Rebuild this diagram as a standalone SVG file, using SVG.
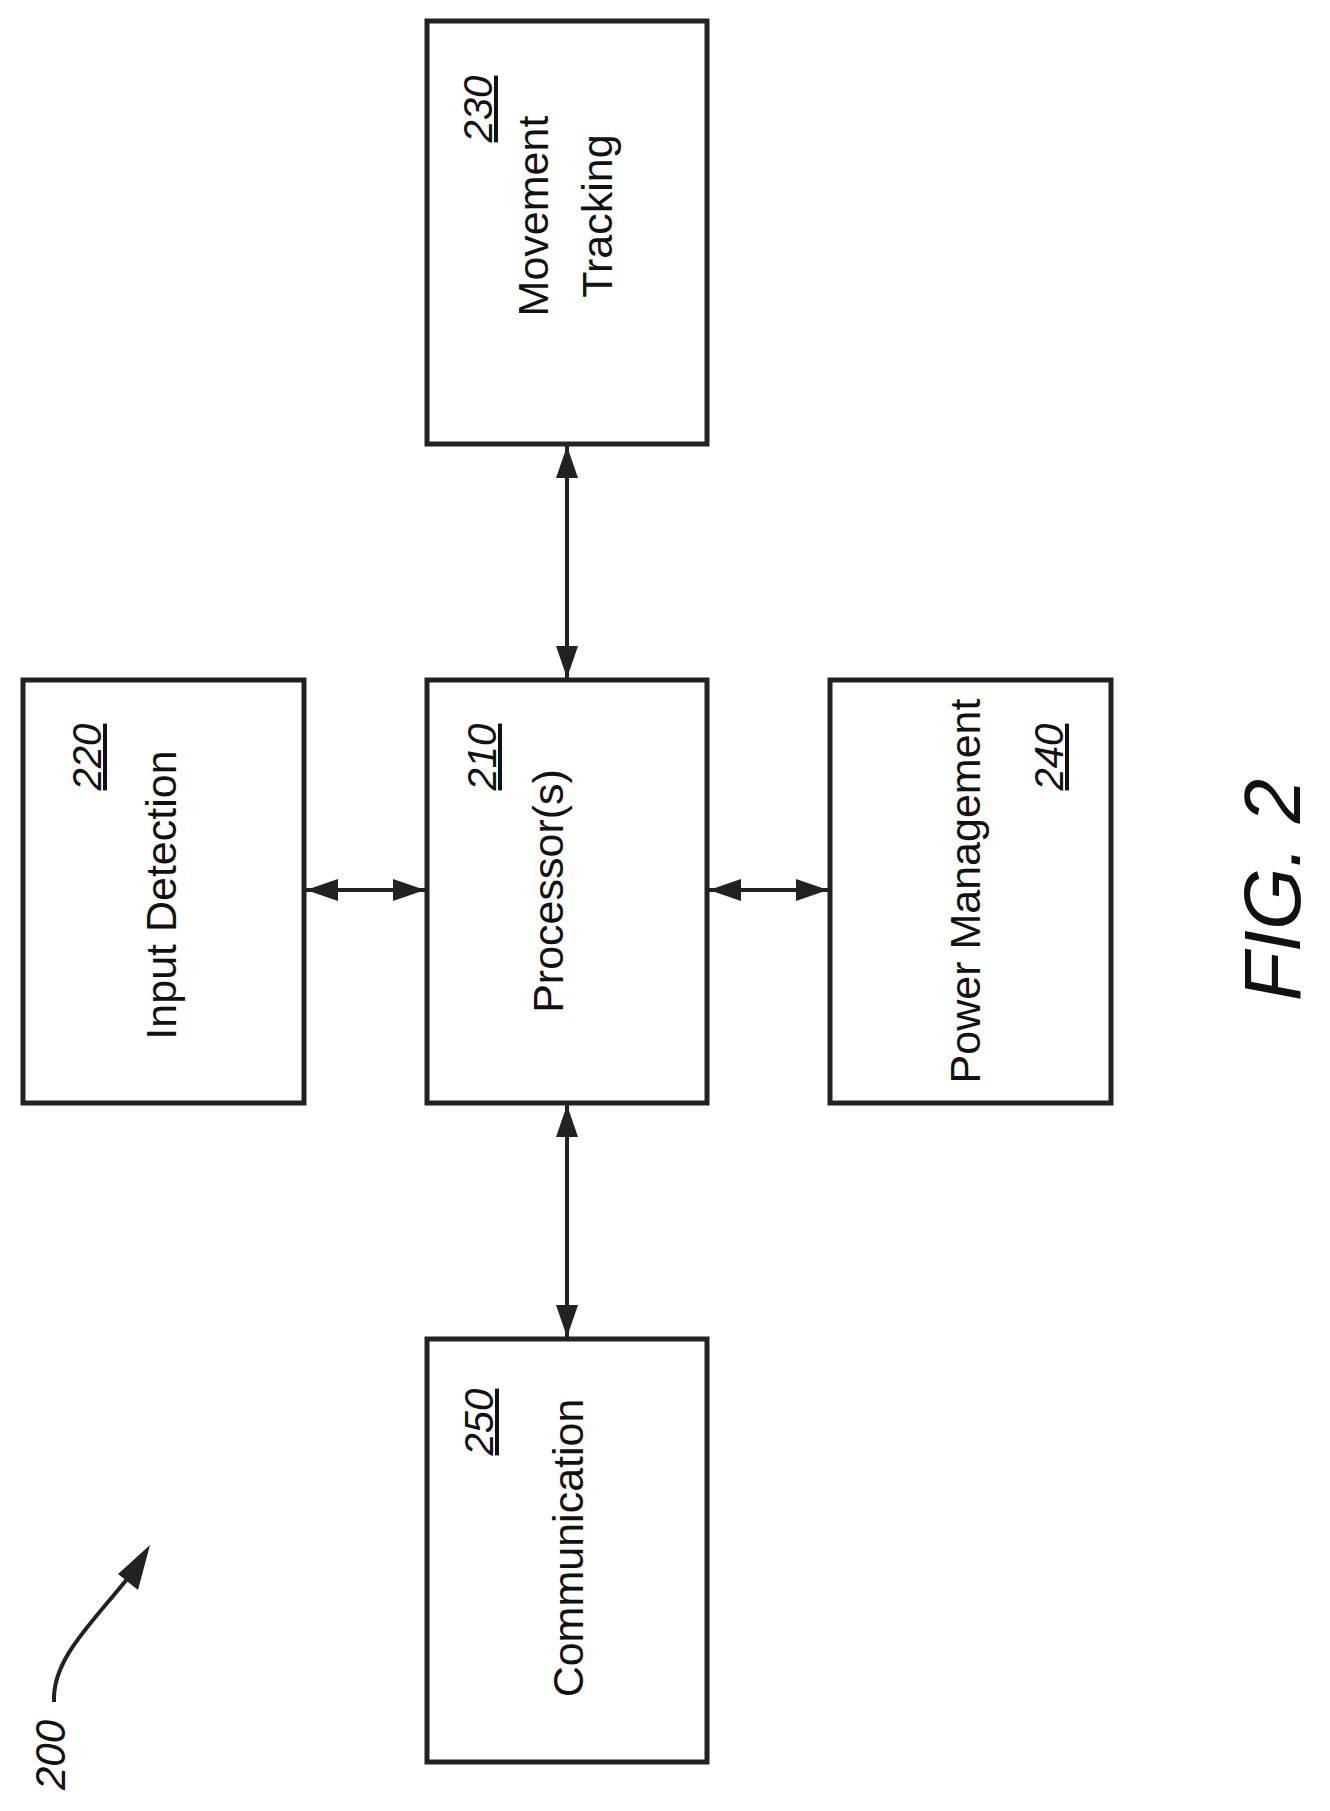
<svg xmlns="http://www.w3.org/2000/svg" width="1330" height="1811" viewBox="0 0 1330 1811">
<style>
.box{fill:#fff;stroke:#222;stroke-width:5}
.t{font-family:"Liberation Sans",Arial,sans-serif;font-size:43px;fill:#111;text-anchor:middle}
.n{font-style:italic;text-decoration:underline;font-size:40px}
.c{stroke:#222;stroke-width:4;fill:none}
</style>
<defs>
<marker id="a" markerUnits="userSpaceOnUse" markerWidth="34" markerHeight="24" refX="32" refY="11" orient="auto-start-reverse" viewBox="0 0 34 22">
<path d="M0,0 L32,11 L0,22 Z" fill="#222"/>
</marker>
</defs>
<g id="connectors">
<line class="c" x1="567" y1="446" x2="567" y2="678" marker-start="url(#a)" marker-end="url(#a)"/>
<line class="c" x1="567" y1="1105" x2="567" y2="1337" marker-start="url(#a)" marker-end="url(#a)"/>
<line class="c" x1="306" y1="890" x2="425" y2="890" marker-start="url(#a)" marker-end="url(#a)"/>
<line class="c" x1="709" y1="890" x2="828" y2="890" marker-start="url(#a)" marker-end="url(#a)"/>
<path class="c" d="M54,1702 C52,1660 90,1625 128,1578" stroke-width="2"/>
<path d="M150,1545 L138,1590 L118,1574 Z" fill="#222"/>
</g>
<g id="n230">
<rect class="box" x="427" y="21" width="280" height="423"/>
<text class="t n" transform="translate(492,109) rotate(-90)">230</text>
<text class="t" transform="translate(548,216) rotate(-90)">Movement</text>
<text class="t" transform="translate(612,216) rotate(-90)">Tracking</text>
</g>
<g id="n220">
<rect class="box" x="23" y="680" width="281" height="423"/>
<text class="t n" transform="translate(101,757) rotate(-90)">220</text>
<text class="t" transform="translate(176,895) rotate(-90)">Input Detection</text>
</g>
<g id="n210">
<rect class="box" x="427" y="680" width="280" height="423"/>
<text class="t n" transform="translate(496,757) rotate(-90)">210</text>
<text class="t" transform="translate(563,891) rotate(-90)">Processor(s)</text>
</g>
<g id="n240">
<rect class="box" x="830" y="680" width="281" height="423"/>
<text class="t" transform="translate(980,891) rotate(-90)">Power Management</text>
<text class="t n" transform="translate(1063,757) rotate(-90)">240</text>
</g>
<g id="n250">
<rect class="box" x="427" y="1339" width="280" height="423"/>
<text class="t n" transform="translate(493,1422) rotate(-90)">250</text>
<text class="t" transform="translate(583,1548) rotate(-90)">Communication</text>
</g>
<text class="t" style="font-style:italic;font-size:42px" transform="translate(65,1755) rotate(-90)">200</text>
<text class="t" style="font-style:italic;font-size:80px" transform="translate(1300,890) rotate(-90)">FIG. 2</text>
</svg>
